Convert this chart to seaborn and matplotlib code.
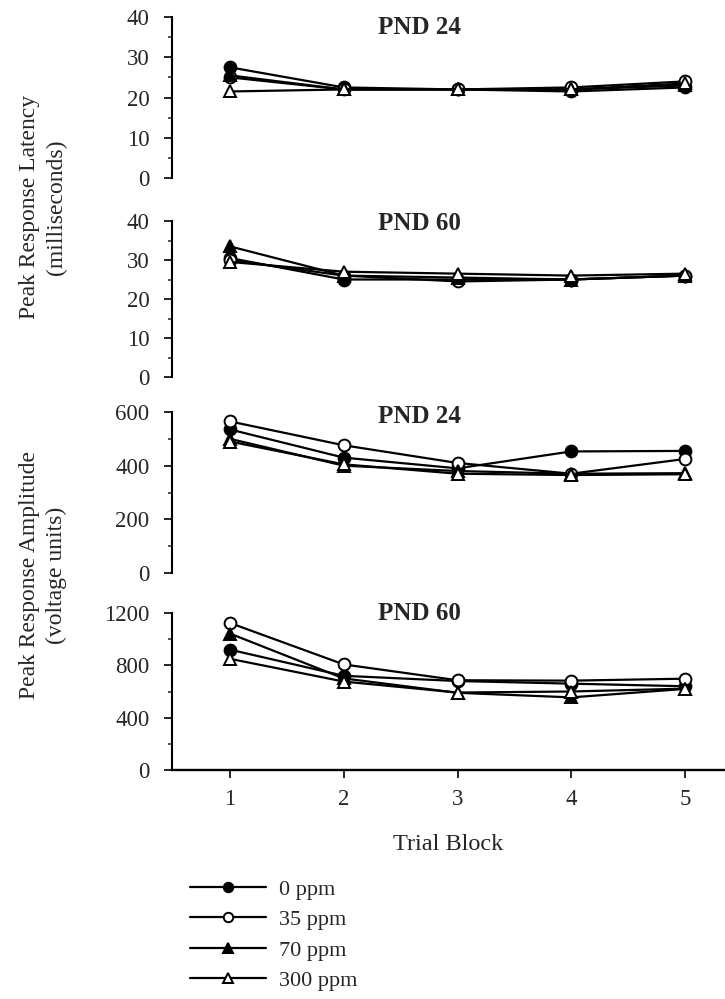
import numpy as np
import pandas as pd
import matplotlib
matplotlib.use('Agg')
import matplotlib.pyplot as plt
from matplotlib.ticker import MultipleLocator
import seaborn as sns

sns.set_theme(style='white')
plt.rcParams['font.family'] = ['Liberation Serif', 'DejaVu Serif']

# Dados
blocos = [1, 2, 3, 4, 5]
doses = ['0 ppm', '35 ppm', '70 ppm', '300 ppm']

# Latência PND 24 (ms)
lat24_0 = [27.5, 22.5, 22.0, 21.5, 22.5]
lat24_35 = [25.0, 22.0, 22.0, 22.5, 24.0]
lat24_70 = [25.5, 22.0, 22.0, 22.0, 23.0]
lat24_300 = [21.5, 22.0, 22.0, 22.0, 23.5]

# Latência PND 60 (ms)
lat60_0 = [30.5, 25.0, 25.0, 25.0, 26.0]
lat60_35 = [30.0, 26.0, 24.5, 25.0, 26.0]
lat60_70 = [33.5, 26.0, 25.5, 25.0, 26.0]
lat60_300 = [29.5, 27.0, 26.5, 26.0, 26.5]

# Amplitude PND 24 (unidades de voltagem)
amp24_0 = [535, 430, 390, 453, 455]
amp24_35 = [565, 476, 410, 370, 425]
amp24_70 = [500, 400, 380, 370, 372]
amp24_300 = [490, 405, 370, 365, 368]

# Amplitude PND 60 (unidades de voltagem)
amp60_0 = [920, 720, 680, 660, 640]
amp60_35 = [1124, 807, 686, 683, 698]
amp60_70 = [1043, 700, 590, 555, 620]
amp60_300 = [850, 676, 592, 600, 622]

paineis = [
    ('PND 24', [lat24_0, lat24_35, lat24_70, lat24_300], 40, 10, 5),
    ('PND 60', [lat60_0, lat60_35, lat60_70, lat60_300], 40, 10, 5),
    ('PND 24', [amp24_0, amp24_35, amp24_70, amp24_300], 600, 200, 100),
    ('PND 60', [amp60_0, amp60_35, amp60_70, amp60_300], 1200, 400, 200),
]

marcadores = ['o', 'o', '^', '^']
preenchimento = ['black', 'white', 'black', 'white']

fig = plt.figure(figsize=(7.25, 9.99), dpi=100)
# (topo, base) em pixels
limites_px = [(17, 178), (221, 377), (412, 573), (613, 770)]
titulo_y = [0.935, 0.985, 0.975, 0.995]

eixos = []
for i, (titulo, series, ymax, passo, menor) in enumerate(paineis):
    topo, base = limites_px[i]
    ax = fig.add_axes([0.237, 1 - base / 999, 0.763, (base - topo) / 999])
    eixos.append(ax)
    for j, valores in enumerate(series):
        df = pd.DataFrame({'Bloco': blocos, 'Valor': valores})
        sns.lineplot(data=df, x='Bloco', y='Valor', ax=ax, color='black',
                     linewidth=1.6, marker=marcadores[j], markersize=8.5,
                     markerfacecolor=preenchimento[j], markeredgecolor='black',
                     markeredgewidth=1.4, label=doses[j], legend=False)
    ax.set_xlim(0.49, 5.35)
    ax.set_ylim(0, ymax)
    ax.yaxis.set_major_locator(MultipleLocator(passo))
    ax.yaxis.set_minor_locator(MultipleLocator(menor))
    ax.tick_params(axis='y', which='major', direction='out', length=6, width=1.4,
                   labelsize=16.5, left=True, pad=10)
    ax.tick_params(axis='y', which='minor', direction='out', length=3, width=1.1, left=True)
    for lado in ['top', 'right']:
        ax.spines[lado].set_visible(False)
    ax.spines['left'].set_color('black')
    ax.spines['left'].set_linewidth(1.5)
    ax.set_xlabel('')
    ax.set_ylabel('')
    ax.text(0.448, titulo_y[i], titulo, transform=ax.transAxes, ha='center', va='center',
            fontsize=18, fontweight='bold')
    if i < 3:
        ax.spines['bottom'].set_visible(False)
        ax.set_xticks([])
    else:
        ax.spines['bottom'].set_color('black')
        ax.spines['bottom'].set_linewidth(1.7)
        ax.set_xticks(blocos)
        ax.tick_params(axis='x', direction='out', length=6, width=1.4, labelsize=16.5,
                       bottom=True, pad=8)
        ax.set_xlabel('Trial Block', fontsize=17.5, labelpad=17)

fig.text(0.059, 0.793, 'Peak Response Latency\n(milliseconds)', rotation=90,
         ha='center', va='center', fontsize=17, linespacing=1.35)
fig.text(0.059, 0.424, 'Peak Response Amplitude\n(voltage units)', rotation=90,
         ha='center', va='center', fontsize=17, linespacing=1.35)

handles, labels = eixos[3].get_legend_handles_labels()
fig.legend(handles, labels, loc='upper left', bbox_to_anchor=(0.25, 0.129),
           frameon=False, handlelength=3.4, numpoints=1, markerscale=0.8,
           labelspacing=0.45, handletextpad=0.6, borderaxespad=0,
           prop={'size': 16})

fig.savefig('out.png', dpi=100)
